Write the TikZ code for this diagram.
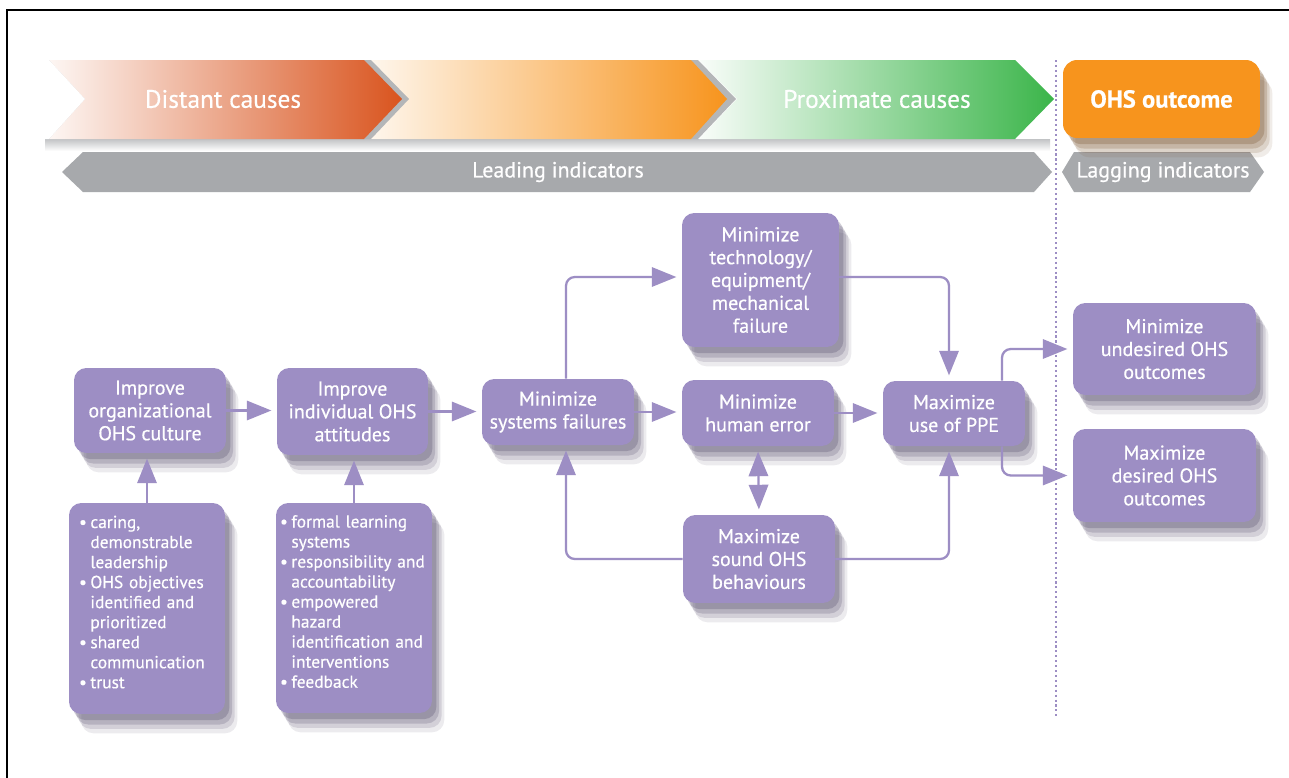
\documentclass[tikz,border=0pt]{standalone}
\usepackage{fontspec}
\setmainfont{PT Sans}[FakeBold=0.5]
\usepackage{tikz}
\usetikzlibrary{positioning,arrows.meta,shadows}

\definecolor{ohspurple}{RGB}{157,142,196}
\definecolor{ohsshadow}{RGB}{70,60,95}
\definecolor{ohsbrown}{RGB}{110,70,30}
\definecolor{ohsorange}{RGB}{247,148,29}
\definecolor{ohsred}{RGB}{217,84,30}
\definecolor{ohsgreen}{RGB}{59,181,74}
\definecolor{ohsgrey}{RGB}{167,169,172}

\tikzset{
  soft/.style={
    drop shadow={shadow xshift=7pt, shadow yshift=-11pt, opacity=.10, fill=#1},
    drop shadow={shadow xshift=5.5pt, shadow yshift=-8.5pt, opacity=.15, fill=#1},
    drop shadow={shadow xshift=4pt, shadow yshift=-6pt, opacity=.20, fill=#1},
    drop shadow={shadow xshift=2.5pt, shadow yshift=-3.5pt, opacity=.25, fill=#1}},
  box/.style={rounded corners=7pt, fill=ohspurple, text=white, align=center, inner sep=2pt,
    font=\fontsize{11.4}{13}\selectfont, soft=ohsshadow},
  listbox/.style={box, align=left, font=\fontsize{9.9}{11.4}\selectfont},
  flow/.style={draw=ohspurple, line width=1.3pt, rounded corners=5pt, -{Triangle[length=14pt,width=11pt]}, shorten >=3pt},
  banner/.style={text=white, font=\fontsize{14.4}{16}\selectfont},
  barlabel/.style={text=white, font=\fontsize{12.5}{14}\selectfont},
}

\begin{document}
\begin{tikzpicture}[x=0.02cm,y=-0.02cm]
\useasboundingbox (0,0) rectangle (1289,778);
\fill[white] (0,0) rectangle (1289,778);
\draw[line width=1pt] (7,778) -- (7,10) -- (1289,10); %frame

\shade[top color=ohsgrey!70, bottom color=white] (45,139) rectangle (1050,151); %shadow under causes

\shade[left color=ohsgreen!3, right color=ohsgreen] (699,60) -- (1015,60) -- (1054,99) -- (1015,139) -- (699,139) -- (737,99) -- cycle; %proximate
\fill[ohsgrey!85] (370,60) -- (698,60) -- (736,99) -- (698,139) -- (370,139) -- cycle; %edge 2
\shade[left color=ohsorange!8, right color=ohsorange] (370,60) -- (691,60) -- (727,99) -- (691,139) -- (370,139) -- (408,99) -- cycle; %middle
\fill[ohsgrey!85] (49,60) -- (371,60) -- (409,99) -- (371,139) -- (49,139) -- cycle; %edge 1
\shade[left color=ohsred!5, right color=ohsred] (49,60) -- (364,60) -- (402,99) -- (364,139) -- (49,139) -- (85,99) -- cycle; %distant
\fill[white] (40,60) -- (49,60) -- (85,99) -- (49,139) -- (40,139) -- cycle;

\fill[ohsgrey] (62,172) -- (83,152) -- (1034,152) -- (1052,172) -- (1034,192) -- (83,192) -- cycle; %leading
\fill[ohsgrey] (1062,172) -- (1074,152) -- (1250,152) -- (1264,172) -- (1250,192) -- (1074,192) -- cycle; %lagging

\draw[ohspurple, line width=1.3pt, dash pattern=on 1.2pt off 1.6pt] (1056,60) -- (1056,718); %divider

\node[banner] (distant) at (223,99) {Distant causes};
\node[banner] (proximate) at (877,99) {Proximate causes};
\node[barlabel] (leading) at (558,172) {Leading indicators};
\node[barlabel] (lagging) at (1163,172) {Lagging indicators};
\node[rounded corners=8pt, fill=ohsorange, text=white, font=\bfseries\fontsize{14}{16}\selectfont,
  minimum width=3.94cm, minimum height=1.56cm, soft=ohsbrown] (outcome) at (1161.5,99) {OHS outcome};

\node[box, minimum width=3.04cm, minimum height=1.70cm] (culture) at (150,410.5) {Improve\\organizational\\OHS culture};
\node[box, minimum width=3.02cm, minimum height=1.74cm] (attitude) at (352.5,411.5) {Improve\\individual OHS\\attitudes};
\node[listbox, text width=2.72cm, inner xsep=0.2cm, minimum height=4.22cm] (culturelist) at (147,608.5) {%
\begin{tabular}{@{}l@{\hspace{2pt}}l@{}}
\textbullet & caring,\\
 & demonstrable\\
 & leadership\\
\textbullet & OHS objectives\\
 & identified and\\
 & prioritized\\
\textbullet & shared\\
 & communication\\
\textbullet & trust\\[5pt]
\end{tabular}};
\node[listbox, text width=2.96cm, inner xsep=0.08cm, minimum height=4.20cm] (attitudelist) at (354,608) {%
\begin{tabular}{@{}l@{\hspace{2pt}}l@{}}
\textbullet & formal learning\\
 & systems\\
\textbullet & responsibility and\\
 & accountability\\
\textbullet & empowered\\
 & hazard\\
 & identification and\\
 & interventions\\
\textbullet & feedback\\[5pt]
\end{tabular}};

\node[box, minimum width=3.04cm, minimum height=1.32cm] (systems) at (558,412) {Minimize\\systems failures};
\node[box, minimum width=3.14cm, minimum height=2.68cm] (tech) at (760.5,280) {Minimize\\technology/\\equipment/\\mechanical\\failure};
\node[box, minimum width=3.04cm, minimum height=1.32cm] (human) at (758,413) {Minimize\\human error};
\node[box, minimum width=2.84cm, minimum height=1.30cm] (ppe) at (954,413.5) {Maximize\\use of PPE};
\node[box, minimum width=3.04cm, minimum height=1.76cm] (behav) at (759,559) {Maximize\\sound OHS\\behaviours};
\node[box, minimum width=3.66cm, minimum height=1.84cm] (undesired) at (1164.5,349) {Minimize\\undesired OHS\\outcomes};
\node[box, minimum width=3.66cm, minimum height=1.86cm] (desired) at (1164.5,475.5) {Maximize\\desired OHS\\outcomes};

\draw[flow] (culture.east) -- (culture.east -| attitude.west);
\draw[flow] (attitude.east) -- (attitude.east -| systems.west);
\draw[flow] (culturelist.north) -- (culturelist.north |- culture.south);
\draw[flow] (attitudelist.north) -- (attitudelist.north |- attitude.south);
\draw[flow] ([xshift=0.16cm]systems.north) |- ([yshift=0.06cm]tech.west);
\draw[flow] ([yshift=0.06cm]tech.east) -| ([xshift=-0.1cm]ppe.north);
\draw[flow] (systems.east) -- (systems.east -| human.west);
\draw[flow] (human.east) -- (human.east -| ppe.west);
\draw[flow, {Triangle[length=14pt,width=11pt]}-{Triangle[length=14pt,width=11pt]}, shorten <=3pt] (human.south) -- (behav.north);
\draw[flow] (behav.west) -| ([xshift=0.16cm]systems.south);
\draw[flow] (behav.east) -| ([xshift=-0.1cm]ppe.south);
\draw[flow] ([xshift=0.96cm]ppe.north) |- (undesired.west);
\draw[flow] ([xshift=0.96cm]ppe.south) |- (desired.west);

\end{tikzpicture}
\end{document}
